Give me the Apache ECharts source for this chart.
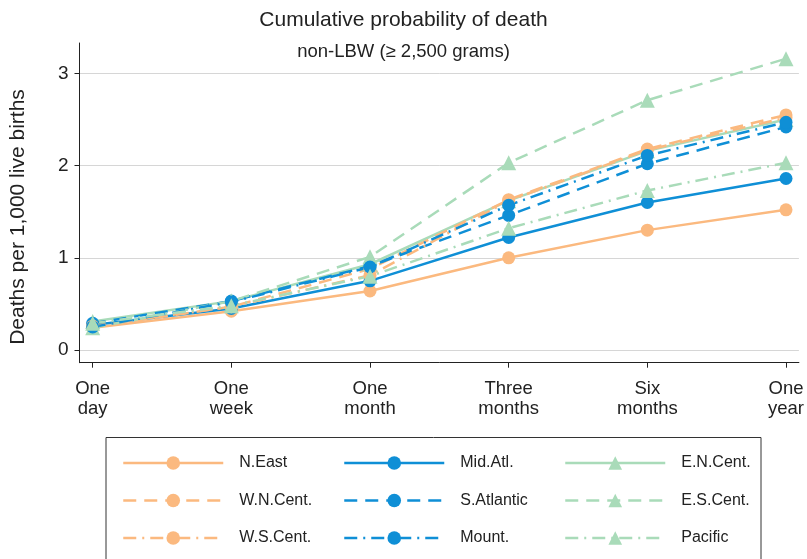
<!DOCTYPE html>
<html>
<head>
<meta charset="utf-8">
<script src="https://cdn.jsdelivr.net/npm/echarts@6/dist/echarts.min.js"></script>
<style>html,body{margin:0;padding:0;background:#fff}#c{width:807px;height:559px}</style>
</head>
<body>
<div id="c"></div>
<script>
const categories = ['One\nday', 'One\nweek', 'One\nmonth', 'Three\nmonths', 'Six\nmonths', 'One\nyear'];
const yTicks = [0, 1, 2, 3];

const nEast     = [0.24, 0.42, 0.64, 1.00, 1.30, 1.52];
const midAtl    = [0.27, 0.45, 0.75, 1.22, 1.60, 1.86];
const enCent    = [0.31, 0.53, 0.93, 1.62, 2.16, 2.50];
const wnCent    = [0.25, 0.47, 0.88, 1.63, 2.18, 2.55];
const sAtlantic = [0.29, 0.53, 0.91, 1.46, 2.02, 2.42];
const esCent    = [0.24, 0.53, 1.01, 2.03, 2.71, 3.16];
const wsCent    = [0.26, 0.47, 0.81, 1.62, 2.17, 2.52];
const mount     = [0.25, 0.52, 0.90, 1.57, 2.11, 2.47];
const pacific   = [0.29, 0.48, 0.80, 1.32, 1.73, 2.03];

const ORANGE = '#FBB97F', BLUE = '#0F8FD6', GREEN = '#A9DBB9';
const SOLID = 'solid', DASH = [13, 8], DASHDOT = [13, 6, 2, 6];
const FONT = "'Liberation Sans', Arial, Helvetica, sans-serif";

const seriesDefs = [
  {name: 'N.East', data: nEast, color: ORANGE, type: SOLID, sym: 'circle'},
  {name: 'Mid.Atl.', data: midAtl, color: BLUE, type: SOLID, sym: 'circle'},
  {name: 'E.N.Cent.', data: enCent, color: GREEN, type: SOLID, sym: 'triangle'},
  {name: 'W.N.Cent.', data: wnCent, color: ORANGE, type: DASH, sym: 'circle'},
  {name: 'S.Atlantic', data: sAtlantic, color: BLUE, type: DASH, sym: 'circle'},
  {name: 'E.S.Cent.', data: esCent, color: GREEN, type: DASH, sym: 'triangle'},
  {name: 'W.S.Cent.', data: wsCent, color: ORANGE, type: DASHDOT, sym: 'circle'},
  {name: 'Mount.', data: mount, color: BLUE, type: DASHDOT, sym: 'circle'},
  {name: 'Pacific', data: pacific, color: GREEN, type: DASHDOT, sym: 'triangle'}
];

const series = seriesDefs.map(d => ({
  name: d.name,
  type: 'line',
  data: d.data.map((v, i) => [i, v]),
  symbol: d.sym,
  symbolSize: d.sym === 'circle' ? 13 : 15,
  showSymbol: true,
  itemStyle: {color: d.color},
  lineStyle: {color: d.color, width: 2.5, type: d.type},
  emphasis: {disabled: true},
  animation: false
}));

function legendCol(names, left) {
  return {
    orient: 'vertical', left: left, top: 455,
    data: names, itemWidth: 100, itemHeight: 17, itemGap: 21.5,
    padding: 0, selectedMode: false,
    lineStyle: {width: 2.5},
    textStyle: {fontFamily: FONT, fontSize: 16, color: '#222', padding: [0, 0, 0, 11]}
  };
}

const chart = echarts.init(document.getElementById('c'), null, {renderer: 'canvas'});
chart.setOption({
  backgroundColor: '#fff',
  animation: false,
  title: [
    {text: 'Cumulative probability of death', left: 'center', top: 10, padding: 0,
     textStyle: {fontFamily: FONT, fontSize: 21, fontWeight: 'normal', color: '#222'}},
    {text: 'non-LBW (≥ 2,500 grams)', left: 'center', top: 42, padding: 0,
     textStyle: {fontFamily: FONT, fontSize: 18.5, fontWeight: 'normal', color: '#222'}}
  ],
  grid: {left: 79.5, right: 4, top: 43, bottom: 196.3, containLabel: false},
  xAxis: {
    type: 'value', min: -0.095, max: 5.093,
    axisLine: {show: true, onZero: false, lineStyle: {color: '#222', width: 1}},
    axisTick: {show: true, customValues: [0, 1, 2, 3, 4, 5], length: 5, lineStyle: {color: '#222'}},
    axisLabel: {customValues: [0, 1, 2, 3, 4, 5], formatter: v => categories[Math.round(v)],
      fontFamily: FONT, fontSize: 18.5, color: '#222', lineHeight: 20, margin: 16},
    splitLine: {show: false}
  },
  yAxis: {
    type: 'value', min: -0.138, max: 3.33,
    axisLine: {show: true, onZero: false, lineStyle: {color: '#222', width: 1}},
    axisTick: {show: true, customValues: yTicks, length: 5, lineStyle: {color: '#222'}},
    axisLabel: {customValues: yTicks, fontFamily: FONT, fontSize: 19, color: '#222', margin: 11},
    splitLine: {show: true, lineStyle: {color: '#d6d6d6', width: 1}}
  },
  legend: [
    legendCol(['N.East', 'W.N.Cent.', 'W.S.Cent.'], 122),
    legendCol(['Mid.Atl.', 'S.Atlantic', 'Mount.'], 343),
    legendCol(['E.N.Cent.', 'E.S.Cent.', 'Pacific'], 564)
  ],
  graphic: [
    {type: 'rect', shape: {x: 106, y: 437.5, width: 655, height: 140},
     style: {fill: 'none', stroke: '#333', lineWidth: 1}, silent: true},
    {type: 'text', x: 18, y: 217, rotation: Math.PI / 2,
     style: {text: 'Deaths per 1,000 live births', fontFamily: FONT, fontSize: 21, fill: '#222',
       align: 'center', verticalAlign: 'middle'}}
  ],
  series: series
});
</script>
</body>
</html>
